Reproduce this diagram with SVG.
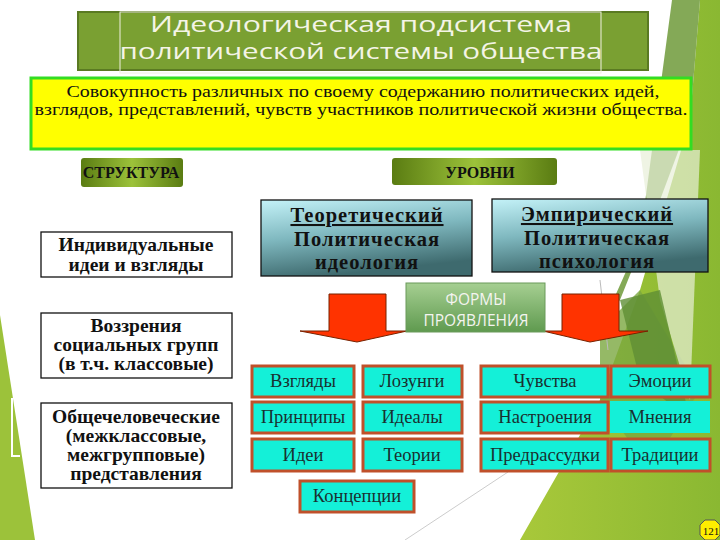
<svg xmlns="http://www.w3.org/2000/svg" width="720" height="540" viewBox="0 0 720 540">
<style>
.title{font-family:"Open Sans","Noto Sans",sans-serif;font-size:21px;fill:#f4f4e6;text-anchor:middle}
.serif{font-family:"Liberation Serif","Times New Roman","DejaVu Serif",serif}
.def{font-size:16px;fill:#111;text-anchor:middle}
.lvl{font-size:16px;font-weight:bold;fill:#111;text-anchor:middle}
.big{font-size:20.5px;font-weight:bold;fill:#111;text-anchor:middle;letter-spacing:1px}
.struct{font-size:19.5px;font-weight:bold;fill:#111;text-anchor:middle}
.cell{font-size:18.5px;fill:#1a3030;text-anchor:middle}
.cellbox{fill:#14f0d8;stroke:#c0502a;stroke-width:3}
.wbox{fill:#fff;stroke:#111;stroke-width:1.3}
.lvbox{fill:url(#teal);stroke:#111;stroke-width:1.3}
.forms{font-family:"Open Sans","Noto Sans",sans-serif;font-size:15.5px;fill:#f4f4f0;text-anchor:middle}
.arrow{fill:#ff3300;stroke:#772200;stroke-width:1}
</style>
<defs>
<linearGradient id="teal" x1="0" y1="0" x2="0.3" y2="1">
<stop offset="0" stop-color="#c4f2f8"/>
<stop offset="0.5" stop-color="#7fb8bf"/>
<stop offset="1" stop-color="#3e6a6e"/>
</linearGradient>
<linearGradient id="banner" x1="0" y1="0" x2="1" y2="0">
<stop offset="0" stop-color="#5a7c12"/>
<stop offset="0.5" stop-color="#9cc23a"/>
<stop offset="1" stop-color="#5a7c12"/>
</linearGradient>
<linearGradient id="formsg" x1="0" y1="0" x2="0" y2="1">
<stop offset="0" stop-color="#a6cf92"/>
<stop offset="1" stop-color="#5f9a4f"/>
</linearGradient>
<linearGradient id="bgg" x1="0" y1="0" x2="1" y2="0">
<stop offset="0" stop-color="#a8c83a"/>
<stop offset="1" stop-color="#8ab832"/>
</linearGradient>
</defs>

<!-- background -->
<rect width="720" height="540" fill="#ffffff"/>
<g id="background">
<polygon points="700,0 720,0 720,540 520,540 600,400 640,290 690,120" fill="url(#bgg)"/>
<polygon points="672,0 700,0 690,120 660,200 620,300 600,330 640,240" fill="#6f9a3a" opacity="0.85"/>
<polygon points="600,330 640,290 700,390 650,470 600,400" fill="#7aa840" opacity="0.8"/>
<polygon points="640,150 700,150 690,400 660,300" fill="#e8f0d8" opacity="0.7"/>
<polygon points="620,300 660,290 690,420 640,380" fill="#5f8f35" opacity="0.8"/>
<polygon points="0,315 35,540 0,540" fill="#9cc23a"/>
<polyline points="12,398 12,456 20,456" fill="none" stroke="#ffffff" stroke-width="2"/>
<line x1="405" y1="540" x2="508" y2="472" stroke="#cccccc" stroke-width="1"/>
<line x1="600" y1="280" x2="608" y2="350" stroke="#bbbbbb" stroke-width="1"/>
</g>

<!-- title -->
<g id="title">
<rect x="78" y="12" width="570" height="58" fill="#7aa032" stroke="#5a7a22" stroke-width="2"/>
<rect x="120" y="12" width="481" height="61" fill="none" stroke="#f0f0e0" stroke-width="1"/>
<text class="title" x="361" y="32" textLength="422" lengthAdjust="spacingAndGlyphs">Идеологическая подсистема</text>
<text class="title" x="361" y="59" textLength="483" lengthAdjust="spacingAndGlyphs">политической системы общества</text>
</g>

<!-- definition -->
<g id="definition">
<rect x="31" y="78" width="660" height="71" fill="#ffff00" stroke="#33dd22" stroke-width="3"/>
<text class="serif def" x="363" y="97" textLength="593" lengthAdjust="spacingAndGlyphs">Совокупность различных по своему содержанию политических идей,</text>
<text class="serif def" x="361" y="115" textLength="653" lengthAdjust="spacingAndGlyphs">взглядов, представлений, чувств участников политической жизни общества.</text>
</g>

<!-- labels -->
<g id="structure-label">
<rect x="81" y="158" width="102" height="29" rx="3" fill="url(#banner)"/>
<text class="serif lvl" x="131" y="178">СТРУКТУРА</text>
</g>
<g id="levels-label">
<rect x="392" y="158" width="165" height="27" rx="3" fill="url(#banner)"/>
<text class="serif lvl" x="480" y="178">УРОВНИ</text>
</g>

<!-- levels -->
<g id="theoretical">
<rect class="lvbox" x="261" y="200" width="211" height="76"/>
<text class="serif big" x="367" y="222" text-decoration="underline">Теоретический</text>
<text class="serif big" x="367" y="246">Политическая</text>
<text class="serif big" x="367" y="269">идеология</text>
</g>
<g id="empirical">
<rect class="lvbox" x="492" y="199" width="216" height="73"/>
<text class="serif big" x="597" y="221" text-decoration="underline">Эмпирический</text>
<text class="serif big" x="597" y="245">Политическая</text>
<text class="serif big" x="597" y="268">психология</text>
</g>

<!-- structure -->
<g id="individual">
<rect class="wbox" x="41" y="232" width="191" height="45"/>
<text class="serif struct" x="136" y="251">Индивидуальные</text>
<text class="serif struct" x="136" y="271">идеи и взгляды</text>
</g>
<g id="social">
<rect class="wbox" x="41" y="313" width="191" height="65"/>
<text class="serif struct" x="136" y="332">Воззрения</text>
<text class="serif struct" x="136" y="351">социальных групп</text>
<text class="serif struct" x="136" y="370">(в т.ч. классовые)</text>
</g>
<g id="universal">
<rect class="wbox" x="41" y="403" width="191" height="85"/>
<text class="serif struct" x="136" y="423">Общечеловеческие</text>
<text class="serif struct" x="136" y="442">(межклассовые,</text>
<text class="serif struct" x="136" y="461">межгрупповые)</text>
<text class="serif struct" x="136" y="480">представления</text>
</g>

<!-- connectors -->
<g id="connectors">
<polygon class="arrow" points="329,294 386,294 386,331 407,331 357,342 300,331 329,331"/>
<polygon class="arrow" points="562,294 619,294 619,331 648,331 590,342 543,331 562,331"/>
</g>

<g id="forms">
<rect x="406" y="283" width="139" height="49" fill="url(#formsg)" stroke="#6a9a5a" stroke-width="1"/>
<text class="forms" x="476" y="305">ФОРМЫ</text>
<text class="forms" x="476" y="326">ПРОЯВЛЕНИЯ</text>
</g>

<!-- forms cells -->
<g id="c-vzglyady"><rect class="cellbox" x="252" y="366" width="102" height="31"/><text class="serif cell" x="303" y="387">Взгляды</text></g>
<g id="c-lozungi"><rect class="cellbox" x="363" y="366" width="99" height="31"/><text class="serif cell" x="412" y="387">Лозунги</text></g>
<g id="c-chuvstva"><rect class="cellbox" x="481" y="366" width="127" height="31"/><text class="serif cell" x="545" y="387">Чувства</text></g>
<g id="c-emocii"><rect class="cellbox" x="611" y="366" width="99" height="31"/><text class="serif cell" x="660" y="387">Эмоции</text></g>
<g id="c-principy"><rect class="cellbox" x="252" y="402" width="102" height="31"/><text class="serif cell" x="303" y="423">Принципы</text></g>
<g id="c-idealy"><rect class="cellbox" x="363" y="402" width="99" height="31"/><text class="serif cell" x="412" y="423">Идеалы</text></g>
<g id="c-nastroeniya"><rect class="cellbox" x="481" y="402" width="127" height="31"/><text class="serif cell" x="545" y="423">Настроения</text></g>
<g id="c-mneniya"><rect x="610" y="401" width="100" height="32" fill="#14f0d8"/><text class="serif cell" x="660" y="423">Мнения</text></g>
<g id="c-idei"><rect class="cellbox" x="252" y="439" width="102" height="32"/><text class="serif cell" x="303" y="461">Идеи</text></g>
<g id="c-teorii"><rect class="cellbox" x="363" y="439" width="99" height="32"/><text class="serif cell" x="412" y="461">Теории</text></g>
<g id="c-predrassudki"><rect class="cellbox" x="481" y="439" width="127" height="32"/><text class="serif cell" x="545" y="461">Предрассудки</text></g>
<g id="c-tradicii"><rect class="cellbox" x="611" y="439" width="99" height="32"/><text class="serif cell" x="660" y="461">Традиции</text></g>
<g id="c-koncepcii"><rect class="cellbox" x="300" y="481" width="114" height="31"/><text class="serif cell" x="357" y="502">Концепции</text></g>

<g id="page-number">
<polygon points="705,520 715,520 720,525 720,535 715,540 705,540 700,535 700,525" fill="#ffee00" stroke="#555" stroke-width="1"/>
<text class="serif" x="711" y="535" font-size="11" text-anchor="middle" fill="#111">121</text>
</g>
</svg>
